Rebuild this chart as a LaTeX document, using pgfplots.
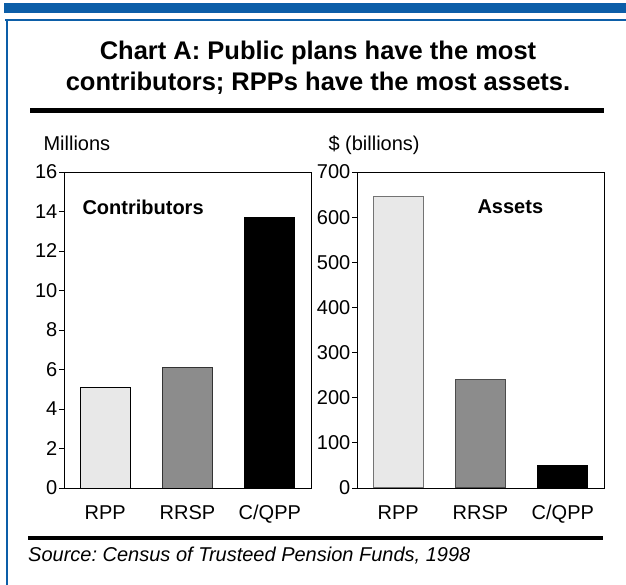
\documentclass[border=0pt]{standalone}
\usepackage{fontspec}
\setmainfont{Liberation Sans}
\usepackage{pgfplots}
\pgfplotsset{compat=1.18}
\frenchspacing

\definecolor{frameblue}{RGB}{12,94,168}
\definecolor{lightbar}{RGB}{232,232,232}
\definecolor{midbar}{RGB}{140,140,140}

\pgfplotsset{
  panel/.style={
    scale only axis, width=247pt, height=316pt,
    ybar, bar width=50pt,
    xmin=-0.5, xmax=2.5, ymin=0,
    xtick={0,1,2}, xticklabels={RPP,RRSP,C/QPP},
    xtick style={draw=none},
    ytick pos=left, xtick pos=bottom, tick align=outside,
    major tick length=5pt,
    axis line style={line width=0.8pt},
    tick style={line width=0.8pt, black},
    ticklabel style={font=\fontsize{20}{24}\selectfont},
    /pgf/number format/assume math mode=true,
    xticklabel style={anchor=base, yshift=-27pt},
    yticklabel style={inner sep=1.5pt},
  },
}

\begin{document}
\begin{tikzpicture}
\useasboundingbox (0,0) rectangle (626pt,585pt);

% frame
\fill[frameblue] (4pt,572pt) rectangle (626pt,582pt);
\fill[frameblue] (5pt,564pt) rectangle (626pt,566pt);
\fill[frameblue] (5.5pt,0pt) rectangle (7.5pt,566pt);

% title
\node[anchor=base, font=\fontsize{25.5}{30}\selectfont\bfseries] at (318pt,525pt)
  {Chart A: Public plans have the most};
\node[anchor=base, font=\fontsize{25.5}{30}\selectfont\bfseries] at (318pt,494pt)
  {contributors; RPPs have the most assets.};
\draw[line width=5pt] (30pt,474.5pt) -- (604pt,474.5pt);

% left panel: contributors
\begin{axis}[panel, at={(64pt,97pt)}, anchor=south west,
  ymax=16, ytick={0,2,...,16}]
\addplot[ybar, bar shift=0pt, fill=lightbar, draw=black, line width=0.8pt] coordinates {(0,5.1)};
\addplot[ybar, bar shift=0pt, fill=midbar, draw=black!80, line width=0.8pt] coordinates {(1,6.1)};
\addplot[ybar, bar shift=0pt, fill=black, draw=black, line width=0.8pt] coordinates {(2,13.7)};
\end{axis}

% right panel: assets
\begin{axis}[panel, at={(357pt,97pt)}, anchor=south west,
  ymax=700, ytick={0,100,...,700}]
\addplot[ybar, bar shift=0pt, fill=lightbar, draw=black!55, line width=1pt] coordinates {(0,645)};
\addplot[ybar, bar shift=0pt, fill=midbar, draw=black!70, line width=1pt] coordinates {(1,241)};
\addplot[ybar, bar shift=0pt, fill=black, draw=black, line width=0.8pt] coordinates {(2,50)};
\end{axis}

% unit labels and panel titles
\node[anchor=base west, font=\fontsize{20}{24}\selectfont] at (40pt,434.3pt) {Millions};
\node[anchor=base west, font=\fontsize{20}{24}\selectfont] at (325pt,434.3pt) {\$ (billions)};
\node[anchor=base west, font=\fontsize{20}{24}\selectfont\bfseries] at (79pt,370pt) {Contributors};
\node[anchor=base west, font=\fontsize{20}{24}\selectfont\bfseries] at (474pt,371pt) {Assets};

% source
\draw[line width=4pt] (28pt,47pt) -- (603pt,47pt);
\node[anchor=base west, inner sep=0pt, font=\fontsize{20}{24}\selectfont\itshape] at (28pt,23pt)
  {Source: Census of Trusteed Pension Funds, 1998};
\end{tikzpicture}
\end{document}
